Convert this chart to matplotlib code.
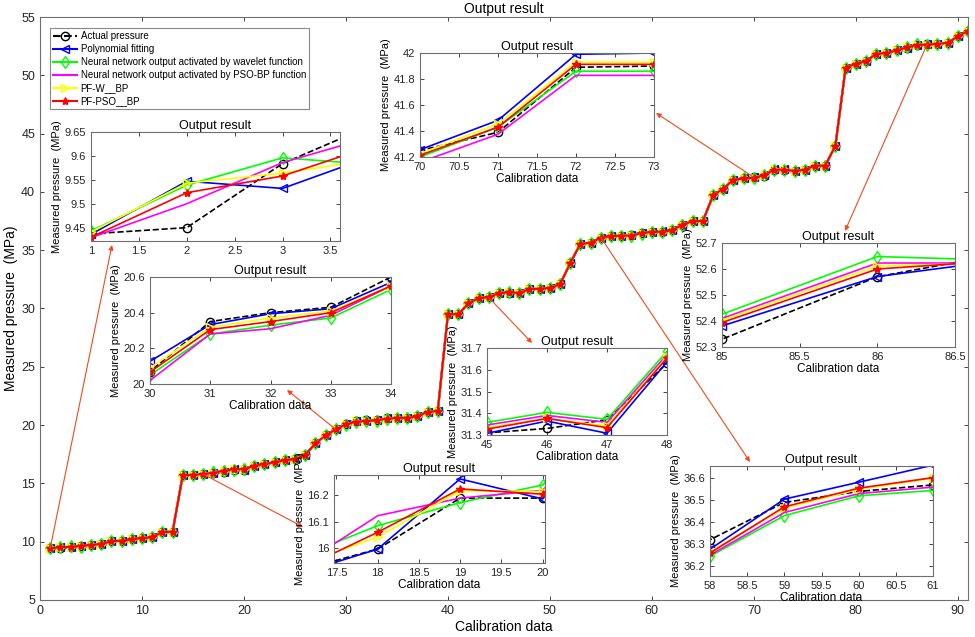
import matplotlib
matplotlib.use('Agg')
import matplotlib.pyplot as plt
from matplotlib.ticker import FuncFormatter, MultipleLocator
import numpy as np

plt.rcParams['font.family'] = ['Liberation Sans', 'DejaVu Sans']

# calibration points and actual pressure (MPa)
calib = list(range(1, 92))
actual = [9.437, 9.45, 9.584, 9.67, 9.7, 9.8, 10.03, 10.09, 10.2, 10.31,
          10.37, 10.83, 10.86, 15.71, 15.73, 15.8, 15.91, 15.996, 16.19, 16.19,
          16.51, 16.66, 16.8, 17.0, 17.06, 17.43, 18.43, 19.11, 19.63, 20.07,
          20.35, 20.40, 20.43, 20.6, 20.62, 20.62, 20.75, 21.14, 21.2, 29.5,
          29.5, 30.43, 30.9, 30.95, 31.31, 31.33, 31.37, 31.63, 31.7, 31.76,
          32.08, 33.9, 35.57, 35.63, 36.08, 36.2, 36.25, 36.32, 36.49, 36.54,
          36.57, 36.7, 37.2, 37.48, 37.5, 39.7, 40.28, 41.05, 41.15, 41.25,
          41.39, 41.89, 41.9, 41.8, 41.9, 42.25, 42.25, 43.97, 50.65, 51.0,
          51.2, 51.85, 51.9, 52.13, 52.33, 52.57, 52.68, 52.7, 52.78, 53.33,
          53.8]

# model outputs where they visibly differ from the actual pressure
poly_fit = {1: 9.436, 2: 9.547, 3: 9.532, 4: 9.604,
            17: 15.898, 18: 15.996, 19: 16.263, 20: 16.187,
            30: 20.127, 31: 20.333, 32: 20.394, 33: 20.422, 34: 20.57,
            45: 31.308, 46: 31.364, 47: 31.308, 48: 31.636,
            58: 36.277, 59: 36.505, 60: 36.582, 61: 36.66,
            70: 41.256, 71: 41.482, 72: 41.99, 73: 42.0,
            85: 52.381, 86: 52.571, 87: 52.649}
wavelet_nn = {1: 9.443, 2: 9.539, 3: 9.596, 4: 9.581,
              17: 15.96, 18: 16.085, 19: 16.173, 20: 16.24,
              30: 20.05, 31: 20.28, 32: 20.33, 33: 20.37, 34: 20.53,
              45: 31.358, 46: 31.404, 47: 31.372, 48: 31.685,
              58: 36.245, 59: 36.43, 60: 36.52, 61: 36.545,
              70: 41.2, 71: 41.43, 72: 41.86, 73: 41.86,
              85: 52.426, 86: 52.648, 87: 52.63}
psobp_nn = {1: 9.429, 2: 9.50, 3: 9.586, 4: 9.644,
            17: 15.92, 18: 16.123, 19: 16.19, 20: 16.22,
            30: 20.02, 31: 20.28, 32: 20.31, 33: 20.385, 34: 20.55,
            45: 31.346, 46: 31.39, 47: 31.358, 48: 31.67,
            58: 36.25, 59: 36.444, 60: 36.53, 61: 36.56,
            70: 41.16, 71: 41.375, 72: 41.828, 73: 41.828,
            85: 52.41, 86: 52.623, 87: 52.623}
pf_w_bp = {1: 9.441, 2: 9.543, 3: 9.564, 4: 9.594,
           17: 15.93, 18: 16.042, 19: 16.218, 20: 16.215,
           30: 20.09, 31: 20.32, 32: 20.37, 33: 20.41, 34: 20.55,
           45: 31.334, 46: 31.376, 47: 31.341, 48: 31.659,
           58: 36.267, 59: 36.464, 60: 36.55, 61: 36.6,
           70: 41.226, 71: 41.456, 72: 41.93, 73: 41.93,
           85: 52.403, 86: 52.612, 87: 52.625}
pf_pso_bp = {1: 9.430, 2: 9.523, 3: 9.558, 4: 9.625,
             17: 15.91, 18: 16.06, 19: 16.225, 20: 16.205,
             30: 20.067, 31: 20.305, 32: 20.35, 33: 20.40, 34: 20.55,
             45: 31.327, 46: 31.376, 47: 31.334, 48: 31.654,
             58: 36.26, 59: 36.47, 60: 36.555, 61: 36.603,
             70: 41.213, 71: 41.43, 72: 41.913, 73: 41.913,
             85: 52.394, 86: 52.6, 87: 52.64}


def full_series(overrides):
    vals = list(actual)
    for k, v in overrides.items():
        vals[k - 1] = v
    return vals


series = [
    (actual, dict(color='k', ls='--', marker='o', mfc='none'), 'Actual pressure'),
    (full_series(poly_fit), dict(color='b', marker='<', mfc='none'), 'Polynomial fitting'),
    (full_series(wavelet_nn), dict(color='#00ff00', marker='d', mfc='none'),
     'Neural network output activated by wavelet function'),
    (full_series(psobp_nn), dict(color='#ff00ff'),
     'Neural network output activated by PSO-BP function'),
    (full_series(pf_w_bp), dict(color='#ffff00', marker='>', mfc='none'), 'PF-W__BP'),
    (full_series(pf_pso_bp), dict(color='r', marker='*'), 'PF-PSO__BP'),
]

W, H = 975, 637
fig = plt.figure(figsize=(W / 100, H / 100), dpi=100)


def px_rect(l, t, r, b):
    return [l / W, 1 - b / H, (r - l) / W, (b - t) / H]


def style_axes(ax, size):
    for s in ax.spines.values():
        s.set_color('#6e6e6e')
        s.set_linewidth(0.8)
    ax.tick_params(direction='in', top=True, right=True, labelsize=size,
                   colors='#262626', length=3, width=0.6)
    fmt = FuncFormatter(lambda v, p: '%g' % round(v, 4))
    ax.xaxis.set_major_formatter(fmt)
    ax.yaxis.set_major_formatter(fmt)


ax = fig.add_axes(px_rect(40, 17, 968, 600))
for vals, kw, lab in series:
    ax.plot(calib, vals, lw=1.5, ms=6, mew=1.0, label=lab, **kw)
ax.set_xlim(0, 91)
ax.set_ylim(5, 55)
ax.xaxis.set_major_locator(MultipleLocator(10))
ax.yaxis.set_major_locator(MultipleLocator(5))
style_axes(ax, 9)
ax.set_title('Output result', fontsize=10, pad=3)
ax.set_xlabel('Calibration data', fontsize=10, labelpad=2)
ax.set_ylabel('Measured pressure  (MPa)', fontsize=10, labelpad=2)
leg = ax.legend(loc='upper left', bbox_to_anchor=(50 / W, 1 - 28 / H),
                bbox_transform=fig.transFigure, fontsize=7, handlelength=2.4,
                labelspacing=0.3, borderpad=0.35, handletextpad=0.4,
                fancybox=False, framealpha=1, edgecolor='#888888', borderaxespad=0)
leg.get_frame().set_linewidth(0.8)

# arrows from main curve to the insets
arrows = [((1, 9.44), (112, 245)), ((16, 15.8), (303, 527)), ((29, 19.63), (287, 390)),
          ((44, 30.95), (532, 343)), ((55, 36.08), (750, 462)), ((70, 41.25), (656, 113)),
          ((87, 52.68), (845, 231))]
for (xd, yd), (xp, yp) in arrows:
    ax.annotate('', xy=(xp / W, 1 - yp / H), xycoords='figure fraction',
                xytext=(xd, yd), textcoords='data',
                arrowprops=dict(arrowstyle='-|>', color='#f24a1d', lw=0.8,
                                mutation_scale=7, shrinkA=0, shrinkB=0))

# insets: pixel box, xlim, ylim, xtick step, ytick step, show xlabel
insets = [
    ((91, 132, 340, 241), (1, 3.6), (9.422, 9.65), 0.5, 0.05, False),
    ((150, 277, 391, 384), (30, 34), (20, 20.6), 1, 0.2, True),
    ((334, 475, 545, 563), (17.47, 20.03), (15.943, 16.278), 0.5, 0.1, True),
    ((487, 348, 667, 435), (45, 48), (31.3, 31.7), 1, 0.1, True),
    ((420, 53, 654, 157), (70, 73), (41.2, 42), 0.5, 0.2, True),
    ((710, 466, 933, 576), (58, 61), (36.155, 36.656), 0.5, 0.1, True),
    ((722, 243, 955, 347), (85, 86.5), (52.3, 52.7), 0.5, 0.1, True),
]
for box, xl, yl, xs, ys, show_x in insets:
    ia = fig.add_axes(px_rect(*box))
    for vals, kw, lab in series:
        ia.plot(calib, vals, lw=1.2, ms=6, mew=1.0, **kw)
    ia.set_xlim(*xl)
    ia.set_ylim(*yl)
    ia.xaxis.set_major_locator(MultipleLocator(xs))
    ia.yaxis.set_major_locator(MultipleLocator(ys))
    style_axes(ia, 8)
    ia.set_title('Output result', fontsize=9, pad=2)
    if show_x:
        ia.set_xlabel('Calibration data', fontsize=8.5, labelpad=1)
    ia.set_ylabel('Measured pressure  (MPa)', fontsize=8, labelpad=2)

fig.savefig('out.png', dpi=100)
